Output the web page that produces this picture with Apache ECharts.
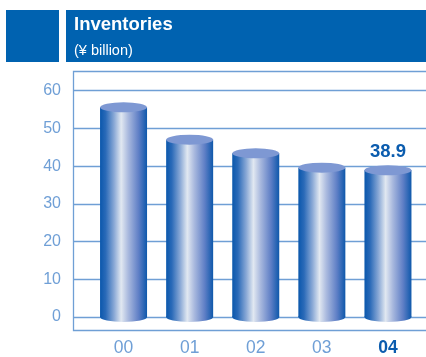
<!DOCTYPE html>
<html>
<head>
<meta charset="utf-8">
<script src="https://cdn.jsdelivr.net/npm/echarts@6/dist/echarts.min.js"></script>
<style>
html,body{margin:0;padding:0;background:#fff;}
#c{width:426px;height:357px;}
</style>
</head>
<body>
<div id="c"></div>
<script>
var categories = ['00', '01', '02', '03', '04'];
var inventories = [55.6, 47.0, 43.4, 39.6, 38.9];
var yTicks = [0, 10, 20, 30, 40, 50, 60];
var titleText = 'Inventories';
var unitText = '(¥ billion)';

var FONT = '"Liberation Sans", Arial, Helvetica, sans-serif';
var HEAD = '#0062b0';
var LINE = '#6f9fd5';
var LABEL = '#6f9fd6';
var DARK = '#0b5cae';

var bodyGrad = new echarts.graphic.LinearGradient(0, 0, 1, 0, [
  {offset: 0, color: '#0a57ac'},
  {offset: 0.12, color: '#2a6ab8'},
  {offset: 0.3, color: '#8aa9d6'},
  {offset: 0.45, color: '#e1e8f1'},
  {offset: 0.6, color: '#a9b9de'},
  {offset: 0.82, color: '#5f7fc6'},
  {offset: 1, color: '#0e58ab'}
]);

var chart = echarts.init(document.getElementById('c'), null, {renderer: 'canvas'});

var barData = inventories.map(function (v, i) {
  var item = {value: v};
  if (i === categories.length - 1) {
    item.label = {
      show: true, position: 'top', distance: 9,
      formatter: function (p) { return p.value.toFixed(1); },
      color: DARK, fontFamily: FONT, fontWeight: 'bold', fontSize: 18.5
    };
  }
  return item;
});

chart.setOption({
  animation: false,
  backgroundColor: '#ffffff',
  graphic: [
    {type: 'rect', shape: {x: 6, y: 10, width: 53, height: 52}, style: {fill: HEAD}, silent: true},
    {type: 'rect', shape: {x: 66, y: 10, width: 360, height: 52}, style: {fill: HEAD}, silent: true},
    {type: 'text', x: 74, y: 25, style: {text: titleText, fill: '#fff', font: 'bold 18.5px ' + FONT, textVerticalAlign: 'middle'}, silent: true},
    {type: 'text', x: 74, y: 50.5, style: {text: unitText, fill: '#fff', font: '14.5px ' + FONT, textVerticalAlign: 'middle'}, silent: true},
    {type: 'polyline', shape: {points: [[426, 71.5], [73.5, 71.5], [73.5, 330.5], [426, 330.5]]},
      style: {stroke: LINE, lineWidth: 1.3, fill: null}, silent: true, z: 0}
  ],
  grid: [
    {left: 73, right: 0, top: 90.7, bottom: 40},
    {left: 90.5, right: 5, top: 90.7, bottom: 40}
  ],
  xAxis: [
    {type: 'value', gridIndex: 0, show: false, min: 0, max: 1},
    {type: 'category', gridIndex: 1, data: categories,
      axisLine: {show: false}, axisTick: {show: false},
      axisLabel: {
        margin: 22,
        formatter: function (v, i) { return i === categories.length - 1 ? '{b|' + v + '}' : '{a|' + v + '}'; },
        rich: {
          a: {color: LABEL, fontFamily: FONT, fontSize: 17.5},
          b: {color: DARK, fontFamily: FONT, fontSize: 17.5, fontWeight: 'bold'}
        }
      }
    }
  ],
  yAxis: [
    {type: 'value', gridIndex: 0, min: yTicks[0], max: yTicks[yTicks.length - 1], interval: 10,
      axisLine: {show: false}, axisTick: {show: false},
      axisLabel: {margin: 12, color: LABEL, fontFamily: FONT, fontSize: 16},
      splitLine: {show: true, lineStyle: {color: LINE, width: 1.3}}
    },
    {type: 'value', gridIndex: 1, min: yTicks[0], max: yTicks[yTicks.length - 1], show: false, splitLine: {show: false}}
  ],
  series: [
    {type: 'pictorialBar', xAxisIndex: 1, yAxisIndex: 1, data: inventories,
      symbol: 'circle', symbolSize: [47, 10], symbolPosition: 'start', symbolOffset: [0, '50%'],
      itemStyle: {color: bodyGrad}, z: 2, silent: true},
    {type: 'bar', xAxisIndex: 1, yAxisIndex: 1, data: barData, barWidth: 47,
      itemStyle: {color: bodyGrad}, z: 3, silent: true},
    {type: 'pictorialBar', xAxisIndex: 1, yAxisIndex: 1, data: inventories,
      symbol: 'circle', symbolSize: [47, 10], symbolPosition: 'end', symbolOffset: [0, '-50%'],
      itemStyle: {color: '#7e98d3'}, z: 4, silent: true}
  ]
});
</script>
</body>
</html>
